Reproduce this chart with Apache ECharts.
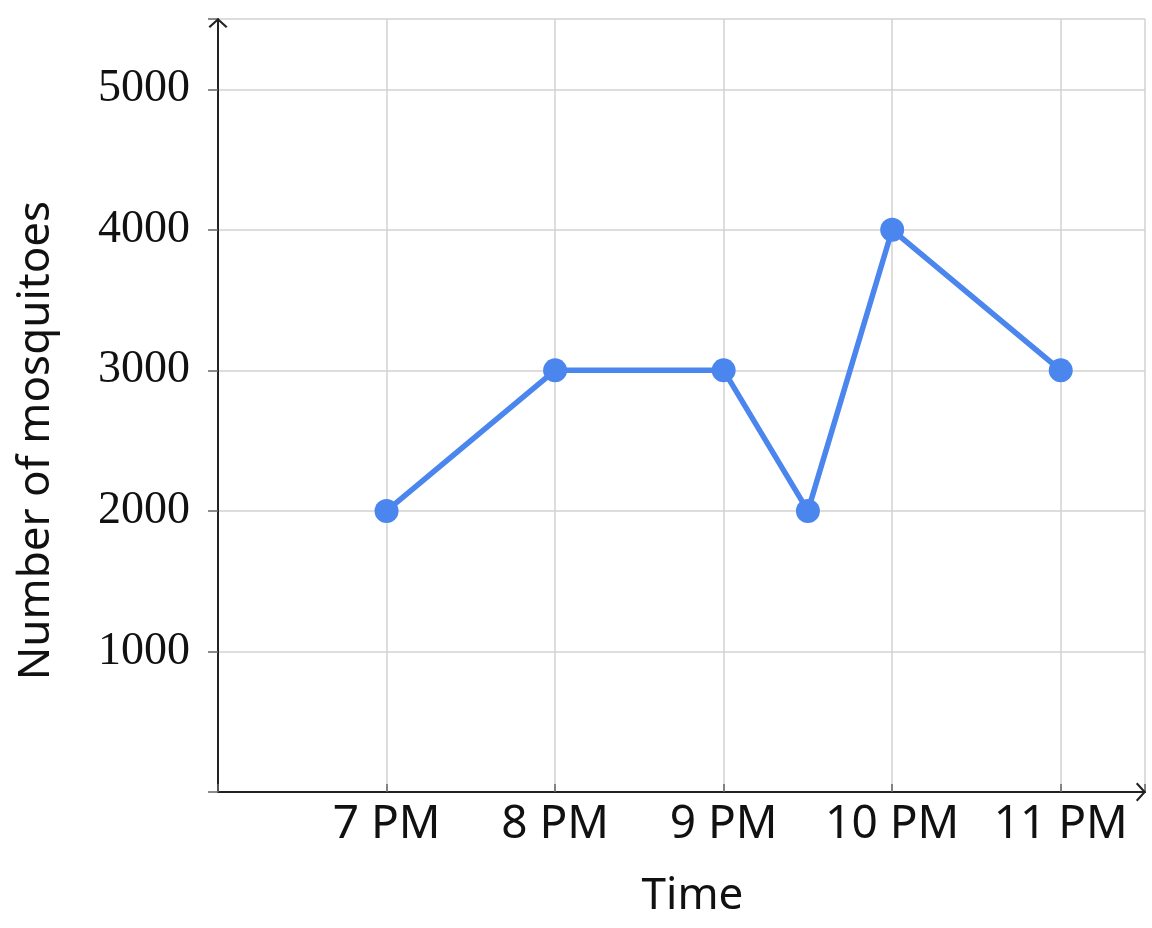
<!DOCTYPE html>
<html>
<head>
<meta charset="utf-8">
<script src="https://cdn.jsdelivr.net/npm/echarts@6/dist/echarts.min.js"></script>
<style>html,body{margin:0;padding:0;background:#fff;}#c{width:1152px;height:928px;}</style>
</head>
<body>
<div id="c"></div>
<script>
const hours = [7, 8, 9, 9.5, 10, 11];
const mosquitoes = [2000, 3000, 3000, 2000, 4000, 3000];
const xTickLabels = {7: '7 PM', 8: '8 PM', 9: '9 PM', 10: '10 PM', 11: '11 PM'};
const yTickLabels = {1000: '1000', 2000: '2000', 3000: '3000', 4000: '4000', 5000: '5000'};

const chevron = 'path://M0,0 L10,9 L8.4,10.6 L0,3 L-8.4,10.6 L-10,9 Z';
const chart = echarts.init(document.getElementById('c'), null, {renderer: 'canvas'});
chart.setOption({
  animation: false,
  backgroundColor: '#fff',
  grid: {left: 218, right: 7, top: 19, bottom: 136, containLabel: false},
  xAxis: {
    type: 'value', min: 6, max: 11.5, interval: 1,
    name: 'Time', nameLocation: 'middle', nameGap: 82,
    nameTextStyle: {fontFamily: 'Noto Sans', fontSize: 44, color: '#111', padding: [0, 0, 0, 22]},
    axisLine: {show: true, lineStyle: {color: '#222', width: 2}, symbol: ['none', chevron], symbolSize: [19, 19], symbolOffset: [0, -4]},
    axisTick: {show: true, inside: true, length: 8, lineStyle: {color: '#666', width: 1.5}},
    axisLabel: {
      margin: 10, fontFamily: 'Noto Sans', fontSize: 46, color: '#111',
      formatter: v => xTickLabels[v] || ''
    },
    splitLine: {show: true, lineStyle: {color: '#d2d2d2', width: 1.5}}
  },
  yAxis: {
    type: 'value', min: 0, max: 5500, interval: 1000,
    name: 'Number of mosquitoes', nameLocation: 'middle', nameGap: 160,
    nameTextStyle: {fontFamily: 'Noto Sans', fontSize: 44, color: '#111', padding: [0, 0, 0, -70]},
    axisLine: {show: true, lineStyle: {color: '#222', width: 2}, symbol: ['none', chevron], symbolSize: [19, 19], symbolOffset: [0, -4]},
    axisTick: {show: true, length: 10, lineStyle: {color: '#666', width: 1.5}},
    axisLabel: {
      margin: 28, fontFamily: 'Liberation Serif', fontSize: 46, color: '#111',
      formatter: v => yTickLabels[v] || ''
    },
    splitLine: {show: true, lineStyle: {color: '#d2d2d2', width: 1.5}}
  },
  series: [{
    type: 'line',
    data: hours.map((h, i) => [h, mosquitoes[i]]),
    symbol: 'circle', symbolSize: 24,
    lineStyle: {color: '#4a86ee', width: 5.5},
    itemStyle: {color: '#4a86ee'}
  }]
});
</script>
</body>
</html>
